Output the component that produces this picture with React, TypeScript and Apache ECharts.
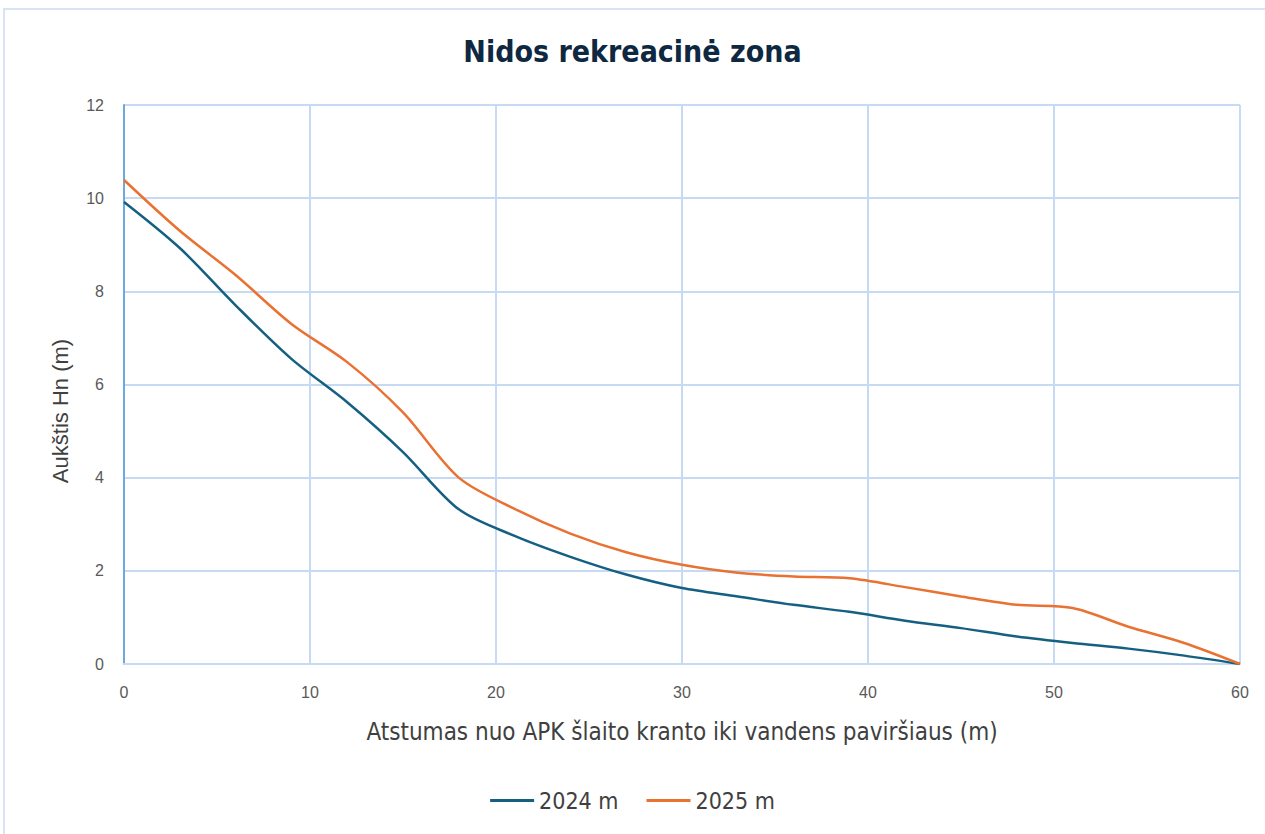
import React, { useEffect, useRef } from "react";
import * as echarts from "echarts";

const distances = [0, 3, 6, 9, 12, 15, 18, 21, 24, 27, 30, 33, 36, 39, 42, 45, 48, 51, 54, 57, 60];
const heights2024 = [9.92, 8.93, 7.7, 6.55, 5.62, 4.55, 3.32, 2.75, 2.3, 1.92, 1.63, 1.45, 1.27, 1.12, 0.93, 0.77, 0.59, 0.45, 0.33, 0.18, 0];
const heights2025 = [10.39, 9.3, 8.35, 7.3, 6.48, 5.4, 4.0, 3.33, 2.8, 2.4, 2.13, 1.96, 1.88, 1.84, 1.65, 1.45, 1.27, 1.2, 0.8, 0.45, 0];
const seriesNames = ["2024 m", "2025 m"];
const titleText = "Nidos rekreacinė zona";
const xAxisName = "Atstumas nuo APK šlaito kranto iki vandens paviršiaus (m)";
const yAxisName = "Aukštis Hn (m)";

const narrow = "'DejaVu Sans Condensed', Roboto, sans-serif";

export default function App() {
  const ref = useRef<HTMLDivElement>(null);
  useEffect(() => {
    document.body.style.margin = "0";
    const chart = echarts.init(ref.current!, null, { renderer: "svg" });
    const toPairs = (ys: number[]) => distances.map((x, i) => [x, ys[i]]);
    chart.setOption({
      animation: false,
      backgroundColor: "#ffffff",
      title: {
        text: titleText,
        left: "center",
        top: 31,
        textStyle: {
          fontFamily: narrow,
          fontWeight: "bold",
          fontSize: 30,
          color: "#0e2841",
        },
      },
      graphic: [
        {
          type: "rect",
          shape: { x: 4, y: 9, width: 1400, height: 1000 },
          style: { fill: "none", stroke: "#d6e4f5", lineWidth: 2 },
          silent: true,
        },
        {
          type: "text",
          x: 60,
          y: 411,
          rotation: Math.PI / 2,
          style: {
            text: yAxisName,
            fontFamily: "Liberation Sans",
            fontSize: 22,
            fill: "#404040",
            align: "center",
            verticalAlign: "middle",
          },
          silent: true,
        },
      ],
      legend: {
        bottom: 17,
        left: "center",
        itemWidth: 44,
        itemHeight: 3,
        itemGap: 28,
        icon: "rect",
        textStyle: { fontFamily: narrow, fontSize: 23, color: "#404040" },
        data: seriesNames,
      },
      grid: { left: 124, right: 25, top: 105, bottom: 170 },
      xAxis: {
        type: "value",
        min: 0,
        max: 60,
        interval: 10,
        name: xAxisName,
        nameLocation: "middle",
        nameGap: 56,
        nameTextStyle: { fontFamily: narrow, fontSize: 24, color: "#404040" },
        axisLine: { show: true, lineStyle: { color: "#c6dbf3", width: 2 } },
        axisTick: { show: false },
        splitLine: { show: true, lineStyle: { color: "#c6dbf3", width: 2 } },
        axisLabel: { fontFamily: "Liberation Sans", fontSize: 16, color: "#595959", margin: 20 },
      },
      yAxis: {
        type: "value",
        min: 0,
        max: 12,
        interval: 2,
        axisLine: { show: true, lineStyle: { color: "#6fa8dc", width: 2 } },
        axisTick: { show: false },
        splitLine: { show: true, lineStyle: { color: "#c6dbf3", width: 2 } },
        axisLabel: { fontFamily: "Liberation Sans", fontSize: 16, color: "#595959", margin: 20 },
      },
      series: [
        {
          name: seriesNames[0],
          type: "line",
          data: toPairs(heights2024),
          smooth: 0.3,
          showSymbol: false,
          lineStyle: { color: "#156082", width: 2.5 },
          itemStyle: { color: "#156082" },
        },
        {
          name: seriesNames[1],
          type: "line",
          data: toPairs(heights2025),
          smooth: 0.3,
          showSymbol: false,
          lineStyle: { color: "#e97132", width: 2.5 },
          itemStyle: { color: "#e97132" },
        },
      ],
    });
    return () => chart.dispose();
  }, []);
  return <div ref={ref} style={{ width: 1265, height: 834 }} />;
}
